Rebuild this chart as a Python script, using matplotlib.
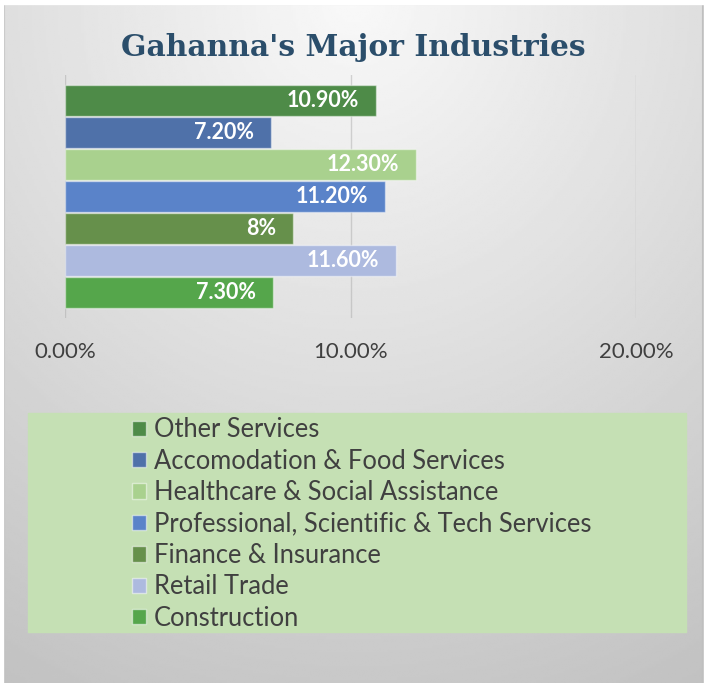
import matplotlib
matplotlib.use('Agg')
import matplotlib.pyplot as plt
from matplotlib.patches import Rectangle, Patch
import numpy as np

# 数据
industries = ['Other Services', 'Accomodation & Food Services', 'Healthcare & Social Assistance',
              'Professional, Scientific & Tech Services', 'Finance & Insurance', 'Retail Trade', 'Construction']
shares = [10.9, 7.2, 12.3, 11.2, 8.0, 11.6, 7.3]
share_labels = ['10.90%', '7.20%', '12.30%', '11.20%', '8%', '11.60%', '7.30%']
tick_values = [0, 10, 20]
tick_labels = ['0.00%', '10.00%', '20.00%']
colors = ['#4e8b48', '#4f71a9', '#a9d18e', '#5a83c9', '#66904b', '#adbadf', '#55a64b']

plt.rcParams['font.family'] = ['Lato', 'DejaVu Sans']

fig = plt.figure(figsize=(7.07, 6.83), dpi=100)

# 背景渐变
bg = fig.add_axes([0, 0, 1, 1], zorder=-5)
yy, xx = np.mgrid[0:1:300j, 0:1:300j]
r = np.sqrt(((xx - 0.5) * 1.1) ** 2 + (yy * 1.0) ** 2)
shade = 0.975 - 0.19 * np.clip(r, 0, 1.2)
bg.imshow(shade, cmap='gray', vmin=0, vmax=1, extent=[0, 1, 0, 1], origin='upper', aspect='auto')
bg.set_xlim(0, 1)
bg.set_ylim(0, 1)
bg.axis('off')
bg.add_patch(Rectangle((4 / 707, -0.01), 699 / 707, 1 - 4 / 683 + 0.01, fill=False,
                       edgecolor='#bfbfbf', linewidth=1.5))
# 白色外边距
bg.add_patch(Rectangle((0, 1 - 4 / 683), 1, 4 / 683, color='white', zorder=3))
bg.add_patch(Rectangle((0, 0), 3.3 / 707, 1, color='white', zorder=3))
bg.add_patch(Rectangle((703.5 / 707, 0), 4 / 707, 1, color='white', zorder=3))

# 标题
fig.text(0.5, 1 - 47 / 683, "Gahanna's Major Industries", ha='center', va='center',
         fontsize=21.4, fontweight='bold', family='DejaVu Serif', color='#2b4e6b')

# 条形图
ax = fig.add_axes([65 / 707, 1 - 318 / 683, 571 / 707, 243 / 683])
ax.patch.set_alpha(0)
pos = np.arange(len(industries))
ax.barh(pos, shares, height=0.95, color=colors, edgecolor=(1, 1, 1, 0.45), linewidth=1, zorder=3)
ax.set_xlim(0, 20)
ax.set_ylim(len(industries) - 0.2, -0.8)
ax.set_xticks(tick_values)
ax.set_xticklabels(tick_labels, fontsize=16, color='#404040')
ax.set_yticks([])
ax.tick_params(axis='x', length=0, pad=17)
ax.grid(axis='x', color='#a6a6a6', linewidth=1, zorder=4, alpha=0.45)
ax.grid(axis='x', color='#a6a6a6', linewidth=1, zorder=1)
for s in ax.spines.values():
    s.set_visible(False)

for i, (v, lbl) in enumerate(zip(shares, share_labels)):
    ax.annotate(lbl, (v, i), xytext=(-17, 0), textcoords='offset pixels', ha='right', va='center',
                color='white', fontsize=15.5, fontweight='bold', zorder=5)

# 图例
bg.add_patch(Rectangle((28 / 707, 1 - 632 / 683), 658 / 707, 219 / 683, color='#c5e0b4', zorder=1))
handles = [Patch(facecolor=c, edgecolor=(1, 1, 1, 0.5), linewidth=1) for c in colors]
fig.legend(handles, industries, loc='center', bbox_to_anchor=(362 / 707, 1 - 524 / 683),
           frameon=False, fontsize=18.4, labelcolor='#404040', handlelength=0.55, handleheight=0.55,
           handletextpad=0.3, labelspacing=0.25, borderpad=0)

fig.savefig('out.png', dpi=100)
